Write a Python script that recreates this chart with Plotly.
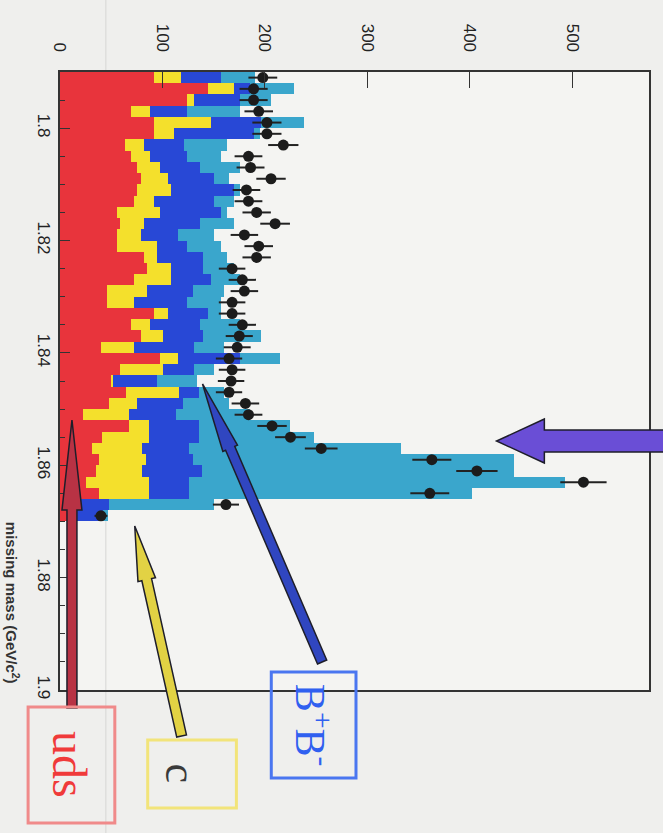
import numpy as np
import plotly.graph_objects as go

# Missing-mass histogram: 0.002 GeV bins starting at 1.79 GeV
bin_lo = 1.79
bin_w = 0.002

# stacked Monte Carlo components (events / bin)
uds = [92, 144, 124, 69, 92, 92, 63, 69, 75, 79,
       75, 72, 56, 59, 56, 56, 82, 85, 72, 46,
       46, 92, 69, 79, 40, 98, 59, 50, 64, 48,
       22, 67, 41, 31, 38, 35, 25, 38, 18, 15]
charm = [26, 26, 7, 19, 55, 19, 19, 19, 23, 26,
         33, 20, 42, 23, 23, 39, 13, 23, 36, 39,
         26, 13, 19, 22, 32, 17, 42, 2, 52, 27,
         45, 20, 46, 49, 46, 45, 62, 49, 2, 2]
b0b0 = [39, 15, 45, 36, 49, 78, 39, 36, 39, 45,
        62, 58, 59, 55, 36, 29, 45, 32, 39, 45,
        52, 39, 49, 39, 59, 61, 30, 43, 20, 45,
        46, 49, 49, 46, 46, 59, 39, 39, 28, 25]
bpbm = [33, 43, 30, 52, 42, 6, 42, 33, 39, 15,
        6, 20, 6, 33, 35, 33, 23, 30, 29, 30,
        33, 13, 39, 56, 29, 39, 19, 39, 24, 45,
        72, 89, 112, 207, 313, 304, 367, 276, 102, 5]

# measured yield per bin
data = [198, 189, 189, 194, 202, 202, 218, 184, 186, 206,
        182, 184, 192, 210, 180, 194, 192, 168, 178, 180,
        168, 168, 178, 175, 173, 165, 168, 167, 165, 181,
        184, 207, 225, 255, 363, 407, 511, 361, 162, 40]

mass_ticks = [1.8, 1.82, 1.84, 1.86, 1.88, 1.9]
mass_tick_text = ["1.8", "1.82", "1.84", "1.86", "1.88", "1.9"]
count_ticks = [0, 100, 200, 300, 400, 500]

centers = bin_lo + bin_w * (np.arange(len(data)) + 0.5)

fig = go.Figure()
fills = [("uds", uds, "#e8343c"), ("c", charm, "#f4e02c"),
         ("B0B0", b0b0, "#2848d6"), ("B+B-", bpbm, "#3aa6cc")]
for name, vals, col in fills:
    fig.add_trace(go.Bar(y=centers, x=vals, orientation="h", width=bin_w,
                         marker=dict(color=col, line=dict(width=0)),
                         name=name, showlegend=False))

fig.add_trace(go.Scatter(
    x=data, y=centers, mode="markers",
    marker=dict(color="#1c1c1c", size=11),
    error_x=dict(type="data", array=np.sqrt(data), color="#222222",
                 thickness=2, width=0),
    showlegend=False))

# frame geometry in pixels
PL, PR, PT, PB = 60, 651, 72, 690


def px(x):
    return (x - PL) / (PR - PL)


def py(y):
    return (PB - y) / (PB - PT)


def arrow_path(x0, y0, x1, y1, w, hw, hl):
    d = np.array([x1 - x0, y1 - y0], float)
    d /= np.hypot(*d)
    n = np.array([-d[1], d[0]])
    tail = np.array([x0, y0], float)
    tip = np.array([x1, y1], float)
    base = tip - d * hl
    pts = [tail + n * w / 2, base + n * w / 2, base + n * hw / 2, tip,
           base - n * hw / 2, base - n * w / 2, tail - n * w / 2]
    return "M " + " L ".join(f"{px(p[0]):.5f},{py(p[1]):.5f}" for p in pts) + " Z"


shapes = []
# faint vertical crease line across the sheet
shapes.append(dict(type="line", xref="paper", yref="paper",
                   x0=px(106), x1=px(106), y0=py(0), y1=py(833),
                   line=dict(color="#d6d6d4", width=1), layer="below"))

arrows = [
    (72, 708, 72, 420, 10, 20, 90, "#b83244"),    # uds
    (182, 736, 135, 526, 10, 18, 55, "#e2d244"),  # c
    (323, 662, 203, 384, 10, 16, 70, "#3046c0"),  # B+B-
    (675, 441, 498, 441, 22, 44, 48, "#6a4ed6"),  # signal peak
]
for x0, y0, x1, y1, w, hw, hl, col in arrows:
    shapes.append(dict(type="path", xref="paper", yref="paper",
                       path=arrow_path(x0, y0, x1, y1, w, hw, hl),
                       fillcolor=col, line=dict(color="#1e1e2a", width=1.5)))

boxes = [
    (28, 707, 115, 823, "#f08a8a"),
    (148, 740, 237, 808, "#f2e47a"),
    (272, 672, 357, 778, "#4a76f0"),
]
for x0, y0, x1, y1, col in boxes:
    shapes.append(dict(type="rect", xref="paper", yref="paper",
                       x0=px(x0), x1=px(x1), y0=py(y1), y1=py(y0),
                       line=dict(color=col, width=3), fillcolor="rgba(0,0,0,0)"))

annotations = [
    dict(text="uds", x=px(70), y=py(765), font=dict(family="Liberation Serif", size=48, color="#f03a3a")),
    dict(text="c", x=px(181), y=py(773), font=dict(family="Liberation Serif", size=44, color="#3a3a3a")),
    dict(text="B<sup>+</sup>B<sup>-</sup>", x=px(314), y=py(725),
         font=dict(family="Liberation Serif", size=42, color="#3060f0")),
    dict(text="<b>missing mass (GeV/c<sup>2</sup>)</b>", x=px(13), y=py(603),
         font=dict(family="Liberation Sans", size=15, color="#333333")),
]
for a in annotations:
    a.update(xref="paper", yref="paper", showarrow=False, textangle=90,
             xanchor="center", yanchor="middle")

fig.update_layout(
    width=663, height=833,
    margin=dict(l=PL, r=663 - PR, t=PT, b=833 - PB),
    paper_bgcolor="#efefed", plot_bgcolor="#f4f4f2",
    barmode="stack", bargap=0,
    shapes=shapes, annotations=annotations,
    xaxis=dict(side="top", range=[0, 575], tickvals=count_ticks,
               tickangle=90, ticks="inside", ticklen=16, tickcolor="#333",
               ticklabelstandoff=12,
               showgrid=False, zeroline=False, showline=True, linecolor="#333",
               linewidth=2, mirror=True,
               tickfont=dict(family="Liberation Sans", size=17, color="#222")),
    yaxis=dict(range=[1.9, 1.79], tickvals=mass_ticks, ticktext=mass_tick_text,
               tickangle=90, ticks="inside", ticklen=10, tickcolor="#333",
               minor=dict(dtick=0.005, ticks="inside", ticklen=5, tickcolor="#333"),
               showgrid=False, zeroline=False, showline=True, linecolor="#333",
               linewidth=2, mirror=True,
               tickfont=dict(family="Liberation Sans", size=17, color="#222")),
)

fig.write_html("out.html")
